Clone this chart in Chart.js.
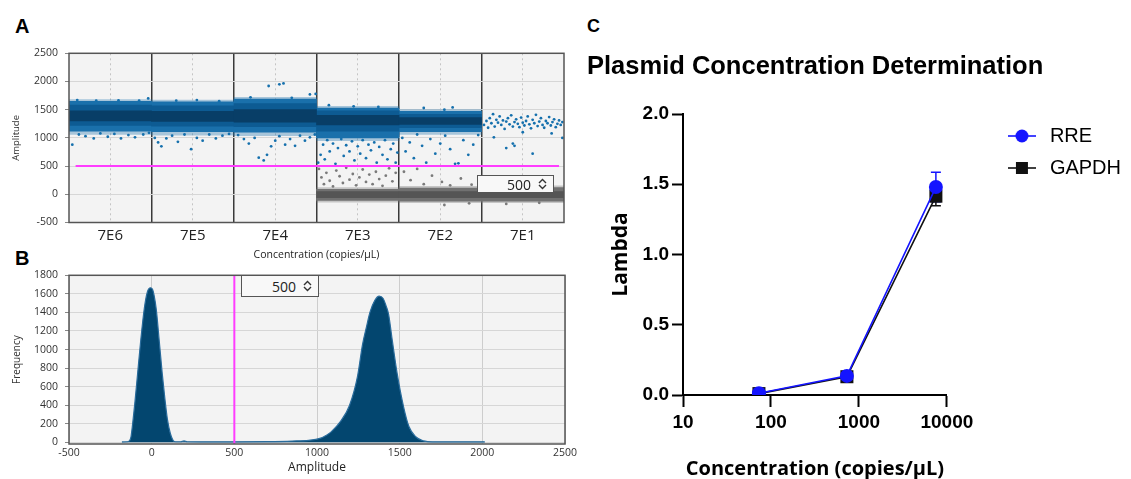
<!DOCTYPE html>
<html>
<head>
<meta charset="utf-8">
<script src="https://cdn.jsdelivr.net/npm/chart.js@4.4.1/dist/chart.umd.min.js"></script>
<style>
    html, body { margin: 0; padding: 0; background: #fff; }
    body { width: 1131px; height: 479px; position: relative; overflow: hidden; font-family: "Liberation Sans", Arial, sans-serif; }
    .panel { position: absolute; }
    .letter { position: absolute; font-weight: bold; font-size: 20px; line-height: 1; color: #000; }
    .spin { position: absolute; box-sizing: border-box; border: 1px solid #555; background: #f8f8f8;
            font-family: "Open Sans", sans-serif; font-size: 14px; color: #222;
            display: flex; align-items: center; justify-content: flex-end; padding-right: 6px; }
    .spin svg { margin-left: 7px; }
</style>
</head>
<body>
<div class="letter" style="left:15px;top:16px">A</div>
<div class="letter" style="left:15px;top:248px">B</div>
<div class="letter" style="left:587px;top:17px;font-size:18px">C</div>

<div class="panel" style="left:0;top:40px;width:570px;height:225px"><canvas id="dropletChart"></canvas></div>
<div class="panel" style="left:0;top:262px;width:580px;height:217px"><canvas id="histChart"></canvas></div>
<div class="panel" style="left:587px;top:0;width:544px;height:479px"><canvas id="lambdaChart"></canvas></div>

<div class="spin" style="left:477px;top:175px;width:77px;height:18px">500<svg width="9" height="12"><path d="M1 5 L4.5 1.5 L8 5 M1 7 L4.5 10.5 L8 7" stroke="#333" stroke-width="1.4" fill="none"/></svg></div>
<div class="spin" style="left:241px;top:275px;width:78px;height:22px">500<svg width="9" height="12"><path d="M1 5 L4.5 1.5 L8 5 M1 7 L4.5 10.5 L8 7" stroke="#333" stroke-width="1.4" fill="none"/></svg></div>

<script>
// ---------- panel A : droplet amplitude per well ----------
const wellLabels = ['7E6', '7E5', '7E4', '7E3', '7E2', '7E1'];
const ampTicks = [-500, 0, 500, 1000, 1500, 2000, 2500];
const threshold = 500;
const thresholdSpan = [0.08, 5.94];

// dense positive droplet bands (amplitude range per well)
const posHaloLo = [1060, 1050, 1040, 950, 1060, null];
const posHaloHi = [1680, 1670, 1720, 1560, 1500, null];
const posOuterLo = [1120, 1110, 1100, 1000, 1110, null];
const posOuterHi = [1650, 1640, 1690, 1530, 1470, null];
const posMidLo = [1220, 1210, 1200, 1120, 1180, null];
const posMidHi = [1580, 1570, 1610, 1480, 1420, null];
const posCoreLo = [1300, 1290, 1280, 1230, 1240, null];
const posCoreHi = [1480, 1470, 1500, 1400, 1360, null];

// dense negative droplet bands
const negHaloLo = [null, null, null, -140, -150, -150];
const negHaloHi = [null, null, null, 120, 140, 150];
const negOuterLo = [null, null, null, -110, -120, -120];
const negOuterHi = [null, null, null, 90, 110, 120];
const negCoreLo = [null, null, null, -60, -60, -60];
const negCoreHi = [null, null, null, 50, 50, 50];

// scattered droplets outside the dense bands [well position, amplitude]
const posDroplets = [
    [0.04, 880], [0.12, 1060], [0.2, 1030], [0.3, 990], [0.38, 1080], [0.47, 1020], [0.55, 1070], [0.63, 990],
    [0.72, 1050], [0.8, 1010], [0.9, 1060], [0.97, 1090], [0.1, 1670], [0.33, 1660], [0.6, 1665], [0.85, 1660], [0.96, 1700],
    [1.04, 1000], [1.08, 920], [1.12, 850], [1.18, 990], [1.25, 1040], [1.32, 930], [1.4, 1060], [1.48, 800],
    [1.55, 1000], [1.62, 950], [1.7, 1060], [1.78, 990], [1.86, 1040], [1.94, 1070], [1.3, 1660], [1.55, 1670], [1.82, 1650],
    [2.05, 1050], [2.12, 980], [2.18, 900], [2.25, 1000], [2.3, 650], [2.36, 600], [2.4, 700], [2.45, 850],
    [2.5, 950], [2.55, 1030], [2.62, 880], [2.68, 980], [2.74, 860], [2.8, 1040], [2.86, 950], [2.92, 1010],
    [2.98, 1060], [2.42, 1920], [2.55, 1950], [2.6, 1965], [2.92, 1770], [2.2, 1720], [2.7, 1710], [2.99, 1780],
    [3.02, 560], [3.05, 700], [3.08, 880], [3.1, 620], [3.13, 960], [3.16, 760], [3.2, 900], [3.23, 540],
    [3.26, 820], [3.3, 980], [3.33, 680], [3.36, 870], [3.4, 760], [3.43, 940], [3.46, 600], [3.5, 850],
    [3.53, 720], [3.56, 960], [3.6, 640], [3.63, 880], [3.66, 780], [3.7, 920], [3.73, 560], [3.76, 840],
    [3.8, 700], [3.83, 960], [3.86, 620], [3.9, 800], [3.93, 900], [3.96, 560], [3.98, 740],
    [3.15, 1580], [3.45, 1560], [3.75, 1550],
    [4.04, 1000], [4.08, 760], [4.13, 920], [4.18, 640], [4.22, 1060], [4.28, 860], [4.33, 560], [4.38, 980],
    [4.44, 720], [4.5, 900], [4.56, 1040], [4.62, 800], [4.68, 540], [4.72, 550], [4.78, 960], [4.84, 700],
    [4.9, 880], [4.96, 1050], [4.3, 1530], [4.65, 1540], [4.55, 1500],
    [5.03, 1230], [5.06, 1300], [5.08, 1180], [5.1, 1350], [5.12, 1260], [5.14, 1420], [5.16, 1200], [5.18, 1320],
    [5.2, 1270], [5.22, 1380], [5.24, 1230], [5.26, 1310], [5.28, 1160], [5.3, 1290], [5.32, 1350], [5.34, 1240],
    [5.36, 1400], [5.38, 1200], [5.4, 1280], [5.42, 1330], [5.44, 1250], [5.46, 1190], [5.48, 1360], [5.5, 1270],
    [5.52, 1220], [5.54, 1300], [5.56, 1380], [5.58, 1240], [5.6, 1170], [5.62, 1320], [5.64, 1260], [5.66, 1410],
    [5.68, 1210], [5.7, 1290], [5.72, 1350], [5.74, 1230], [5.76, 1180], [5.78, 1300], [5.8, 1260], [5.82, 1370],
    [5.84, 1220], [5.86, 1280], [5.88, 1330], [5.9, 1190], [5.92, 1250], [5.94, 1310], [5.96, 1230], [5.98, 1280],
    [5.15, 1010], [5.3, 820], [5.4, 860], [5.38, 900], [5.62, 720], [5.85, 1080], [5.98, 1000], [5.5, 1100]
];
const negDroplets = [
    [3.03, 450], [3.06, 300], [3.09, 180], [3.12, 380], [3.16, 240], [3.2, 140], [3.24, 420], [3.28, 320],
    [3.32, 200], [3.36, 470], [3.4, 260], [3.44, 360], [3.48, 160], [3.52, 300], [3.56, 440], [3.6, 220],
    [3.64, 350], [3.68, 180], [3.72, 400], [3.76, 270], [3.8, 150], [3.84, 330], [3.88, 460], [3.92, 230], [3.96, 380],
    [4.06, 400], [4.14, 250], [4.22, 450], [4.3, 180], [4.4, 330], [4.52, 220], [4.62, 160], [4.75, 280],
    [4.88, 170], [4.55, -190], [4.85, -160],
    [5.3, -170], [5.7, -150], [5.1, 170], [5.5, 160]
];

// ---------- panel B : amplitude histogram ----------
const histTicksX = [-500, 0, 500, 1000, 1500, 2000, 2500];
const histTicksY = [0, 200, 400, 600, 800, 1000, 1200, 1400, 1600, 1800];
const histAmplitude = [-180, -150, -135, -125, -112, -102, -84, -66, -44, -26, -8, 5, 15, 28, 46, 64, 80, 95, 113, 130, 145,
    175, 196, 215, 300, 500, 700, 850, 950, 1017, 1060, 1084, 1140, 1197, 1246, 1275, 1300, 1320, 1350, 1376,
    1400, 1420, 1433, 1456, 1485, 1524, 1556, 1597, 1646, 1700, 2000, 2015];
const histFrequency = [4, 6, 15, 60, 250, 420, 760, 1100, 1450, 1620, 1665, 1650, 1580, 1430, 1090, 740, 470, 250, 95, 20, 6,
    6, 15, 6, 5, 5, 8, 14, 22, 42, 80, 110, 220, 400, 720, 1050, 1250, 1400, 1530, 1575,
    1550, 1460, 1380, 1090, 740, 380, 170, 60, 15, 5, 5, 4];

// ---------- panel C : lambda vs concentration ----------
const concentration = [73, 730, 7500];
const concTicks = [10, 100, 1000, 10000];
const lambdaTicks = [0, 0.5, 1, 1.5, 2];
const rreLambda = [0.012, 0.136, 1.48];
const rreSd = [0.005, 0.008, 0.105];
const gapdhLambda = [0.01, 0.13, 1.415];
const gapdhSd = [0.004, 0.008, 0.068];

const MAGENTA = '#ff3cff';
const BLUE = '#1414ff';

const plotFrame = {
    id: 'plotFrame',
    beforeDraw(chart, args, opts) {
        const { ctx, chartArea: a } = chart;
        ctx.save();
        ctx.fillStyle = opts.fill;
        ctx.fillRect(a.left, a.top, a.width, a.height);
        ctx.restore();
    },
    afterDraw(chart, args, opts) {
        const { ctx, chartArea: a } = chart;
        ctx.save();
        ctx.strokeStyle = opts.stroke;
        ctx.lineWidth = 1.5;
        ctx.strokeRect(a.left, a.top, a.width, a.height);
        ctx.restore();
    }
};

const errorBars = {
    id: 'errorBars',
    beforeDatasetsDraw(chart) {
        const { ctx, scales: { x, y } } = chart;
        chart.data.datasets.forEach(ds => {
            if (!ds.errors) return;
            ctx.save();
            ctx.strokeStyle = ds.borderColor;
            ctx.lineWidth = 1.5;
            ds.data.forEach((p, i) => {
                const px = x.getPixelForValue(p.x);
                const lo = y.getPixelForValue(p.y - ds.errors[i]);
                const hi = y.getPixelForValue(p.y + ds.errors[i]);
                ctx.beginPath();
                ctx.moveTo(px, lo); ctx.lineTo(px, hi);
                ctx.moveTo(px - 5, lo); ctx.lineTo(px + 5, lo);
                ctx.moveTo(px - 5, hi); ctx.lineTo(px + 5, hi);
                ctx.stroke();
            });
            ctx.restore();
        });
    }
};

function bandData(lo, hi) {
    return lo.map((v, i) => v == null ? null : { x: i + 0.5, y: [v, hi[i]] }).filter(Boolean);
}

function bandSet(lo, hi, color, order) {
    return {
        type: 'bar', data: bandData(lo, hi), backgroundColor: color, borderWidth: 0,
        grouped: false, barPercentage: 1, categoryPercentage: 1, order: order
    };
}

const fixedTicks = list => scale => { scale.ticks = list.map(v => ({ value: v })); };
const smallFont = size => ({ family: 'Open Sans', size: size });
const plainNumber = v => String(v);

new Chart(document.getElementById('dropletChart'), {
    type: 'scatter',
    data: {
        datasets: [
            { type: 'line', data: thresholdSpan.map(x => ({ x: x, y: threshold })), borderColor: MAGENTA,
              borderWidth: 2, pointRadius: 0, order: 0 },
            { type: 'scatter', data: posDroplets.map(p => ({ x: p[0], y: p[1] })), backgroundColor: '#1570ad',
              pointRadius: 1.4, borderWidth: 0, order: 1 },
            { type: 'scatter', data: negDroplets.map(p => ({ x: p[0], y: p[1] })), backgroundColor: '#7a7a7a',
              pointRadius: 1.4, borderWidth: 0, order: 1 },
            bandSet(posCoreLo, posCoreHi, '#083e67', 2),
            bandSet(posMidLo, posMidHi, '#0d5b93', 3),
            bandSet(posOuterLo, posOuterHi, '#1a70ab', 4),
            bandSet(posHaloLo, posHaloHi, 'rgba(26,112,171,0.35)', 5),
            bandSet(negCoreLo, negCoreHi, '#555555', 2),
            bandSet(negOuterLo, negOuterHi, '#717171', 3),
            bandSet(negHaloLo, negHaloHi, 'rgba(113,113,113,0.35)', 4)
        ]
    },
    options: {
        responsive: true,
        maintainAspectRatio: false,
        animation: false,
        layout: { padding: { top: 9.5, right: 6, left: 0, bottom: 0 } },
        plugins: {
            legend: { display: false },
            tooltip: { enabled: false },
            plotFrame: { fill: '#f3f3f3', stroke: '#555' }
        },
        scales: {
            x: {
                type: 'linear', min: 0, max: wellLabels.length, offset: false,
                afterBuildTicks: fixedTicks(wellLabels.map((_, i) => i + 0.5)),
                afterFit: s => { s.height = 42.5; },
                grid: { color: '#c4c4c4', drawTicks: false, offset: false },
                border: { display: false, dash: [2, 3] },
                ticks: { padding: 4.5, color: '#222', font: smallFont(15), maxRotation: 0, autoSkip: false,
                         callback: (v, i) => wellLabels[i] },
                title: { display: true, text: 'Concentration (copies/µL)', color: '#222', font: smallFont(10.5),
                         padding: { top: 0, bottom: 3.7 } }
            },
            x2: {
                type: 'linear', min: 0, max: wellLabels.length, position: 'bottom',
                afterBuildTicks: fixedTicks(wellLabels.slice(1).map((_, i) => i + 1)),
                afterFit: s => { s.height = 0; },
                grid: { color: '#3a3a3a', lineWidth: 1.5, drawTicks: false },
                border: { display: false },
                ticks: { display: false }
            },
            y: {
                min: -500, max: 2500,
                afterBuildTicks: fixedTicks(ampTicks),
                afterFit: s => { s.width = 69; },
                grid: { color: '#d6d6d6', tickColor: '#888', tickLength: 4 },
                border: { display: false },
                ticks: { padding: 7, color: '#333', font: smallFont(10.5), callback: plainNumber },
                title: { display: true, text: 'Amplitude', color: '#333', font: smallFont(9.5), padding: { top: 11, bottom: 0 } }
            }
        }
    },
    plugins: [plotFrame]
});

new Chart(document.getElementById('histChart'), {
    type: 'line',
    data: {
        datasets: [
            { data: [{ x: threshold, y: -18 }, { x: threshold, y: 1800 }], borderColor: MAGENTA, borderWidth: 2,
              pointRadius: 0, order: 0 },
            { data: histAmplitude.map((a, i) => ({ x: a, y: histFrequency[i] })), fill: 'origin',
              backgroundColor: '#03466f', borderColor: '#2a6c9c', borderWidth: 1.2, pointRadius: 0,
              cubicInterpolationMode: 'monotone', order: 1 }
        ]
    },
    options: {
        responsive: true,
        maintainAspectRatio: false,
        animation: false,
        layout: { padding: { top: 10.3, right: 15, left: 0, bottom: 0 } },
        plugins: {
            legend: { display: false },
            tooltip: { enabled: false },
            plotFrame: { fill: '#f3f3f3', stroke: '#555' }
        },
        scales: {
            x: {
                type: 'linear', min: -500, max: 2500,
                afterBuildTicks: fixedTicks(histTicksX),
                afterFit: s => { s.height = 35; },
                grid: { color: '#cdcdcd', drawTicks: false },
                border: { display: false },
                ticks: { padding: 2.7, color: '#333', font: smallFont(10.5), maxRotation: 0, callback: plainNumber },
                title: { display: true, text: 'Amplitude', color: '#222', font: smallFont(12), padding: { top: 0, bottom: 3.8 } }
            },
            y: {
                min: -18, max: 1800,
                afterBuildTicks: fixedTicks(histTicksY),
                afterFit: s => { s.width = 69; },
                grid: { color: '#d6d6d6', tickColor: '#888', tickLength: 4 },
                border: { display: false },
                ticks: { padding: 7, color: '#333', font: smallFont(10.5), callback: plainNumber },
                title: { display: true, text: 'Frequency', color: '#333', font: smallFont(10), padding: { top: 11, bottom: 0 } }
            }
        }
    },
    plugins: [plotFrame]
});

function legendIcon(color, style) {
    const c = document.createElement('canvas');
    c.width = 28;
    c.height = 16;
    const g = c.getContext('2d');
    g.strokeStyle = color;
    g.fillStyle = color;
    g.lineWidth = 1.6;
    g.beginPath(); g.moveTo(0, 8); g.lineTo(28, 8); g.stroke();
    if (style === 'circle') {
        g.beginPath(); g.arc(14, 8, 6.5, 0, Math.PI * 2); g.fill();
    } else {
        g.fillRect(8, 2, 12, 12);
    }
    return c;
}

const boldTick = { family: 'Liberation Sans', size: 19, weight: 'bold' };

new Chart(document.getElementById('lambdaChart'), {
    type: 'line',
    data: {
        datasets: [
            { label: 'RRE', data: concentration.map((c, i) => ({ x: c, y: rreLambda[i] })), errors: rreSd,
              borderColor: BLUE, backgroundColor: BLUE, borderWidth: 1.6, pointStyle: 'circle', pointRadius: 7,
              pointBorderWidth: 0, icon: 'circle' },
            { label: 'GAPDH', data: concentration.map((c, i) => ({ x: c, y: gapdhLambda[i] })), errors: gapdhSd,
              borderColor: '#111', backgroundColor: '#111', borderWidth: 1.6, pointStyle: 'rect', pointRadius: 9.2,
              pointBorderWidth: 0, icon: 'rect' }
        ]
    },
    options: {
        responsive: true,
        maintainAspectRatio: false,
        animation: false,
        layout: { padding: { top: 0, right: 0, left: 0, bottom: 0 } },
        plugins: {
            tooltip: { enabled: false },
            title: {
                display: true, text: 'Plasmid Concentration Determination', align: 'start', color: '#000',
                font: { family: 'Liberation Sans', size: 25.5, weight: 'bold', lineHeight: 1.2 },
                padding: { top: 52, bottom: 31.4 }
            },
            legend: {
                position: 'right', align: 'start', fullSize: false, maxWidth: 200,
                labels: {
                    usePointStyle: true, pointStyleWidth: 36, padding: 12, color: '#000',
                    font: { family: 'Liberation Sans', size: 20 },
                    generateLabels: chart => chart.data.datasets.map((ds, i) => ({
                        text: ds.label, pointStyle: legendIcon(ds.borderColor, ds.icon),
                        fillStyle: ds.borderColor, strokeStyle: ds.borderColor, lineWidth: 0,
                        hidden: false, datasetIndex: i, fontColor: '#000'
                    }))
                }
            }
        },
        scales: {
            x: {
                type: 'logarithmic', min: 10, max: 10000,
                afterBuildTicks: fixedTicks(concTicks),
                afterFit: s => { s.height = 84; },
                grid: { drawOnChartArea: false, tickLength: 12, tickWidth: 2, tickColor: '#000' },
                border: { color: '#000', width: 2 },
                ticks: { padding: 4.6, color: '#000', font: boldTick, maxRotation: 0, callback: plainNumber },
                title: { display: true, text: 'Concentration (copies/µL)', color: '#000',
                         font: { family: 'Open Sans', size: 20, weight: 'bold', lineHeight: 1 }, padding: { top: 0, bottom: 0 } }
            },
            y: {
                min: 0, max: 2,
                afterBuildTicks: fixedTicks(lambdaTicks),
                afterFit: s => { s.width = 96; },
                grid: { drawOnChartArea: false, tickLength: 11, tickWidth: 2, tickColor: '#000' },
                border: { color: '#000', width: 2 },
                ticks: { padding: 3, color: '#000', font: boldTick, callback: v => v.toFixed(1) },
                title: { display: true, text: 'Lambda', color: '#000',
                         font: { family: 'Open Sans', size: 21, weight: 'bold', lineHeight: 1 }, padding: { top: 24, bottom: 0 } }
            },
            gap: {
                type: 'linear', position: 'right',
                afterFit: s => { s.width = 45; },
                grid: { display: false },
                border: { display: false },
                ticks: { display: false }
            }
        }
    },
    plugins: [errorBars]
});
</script>
</body>
</html>
